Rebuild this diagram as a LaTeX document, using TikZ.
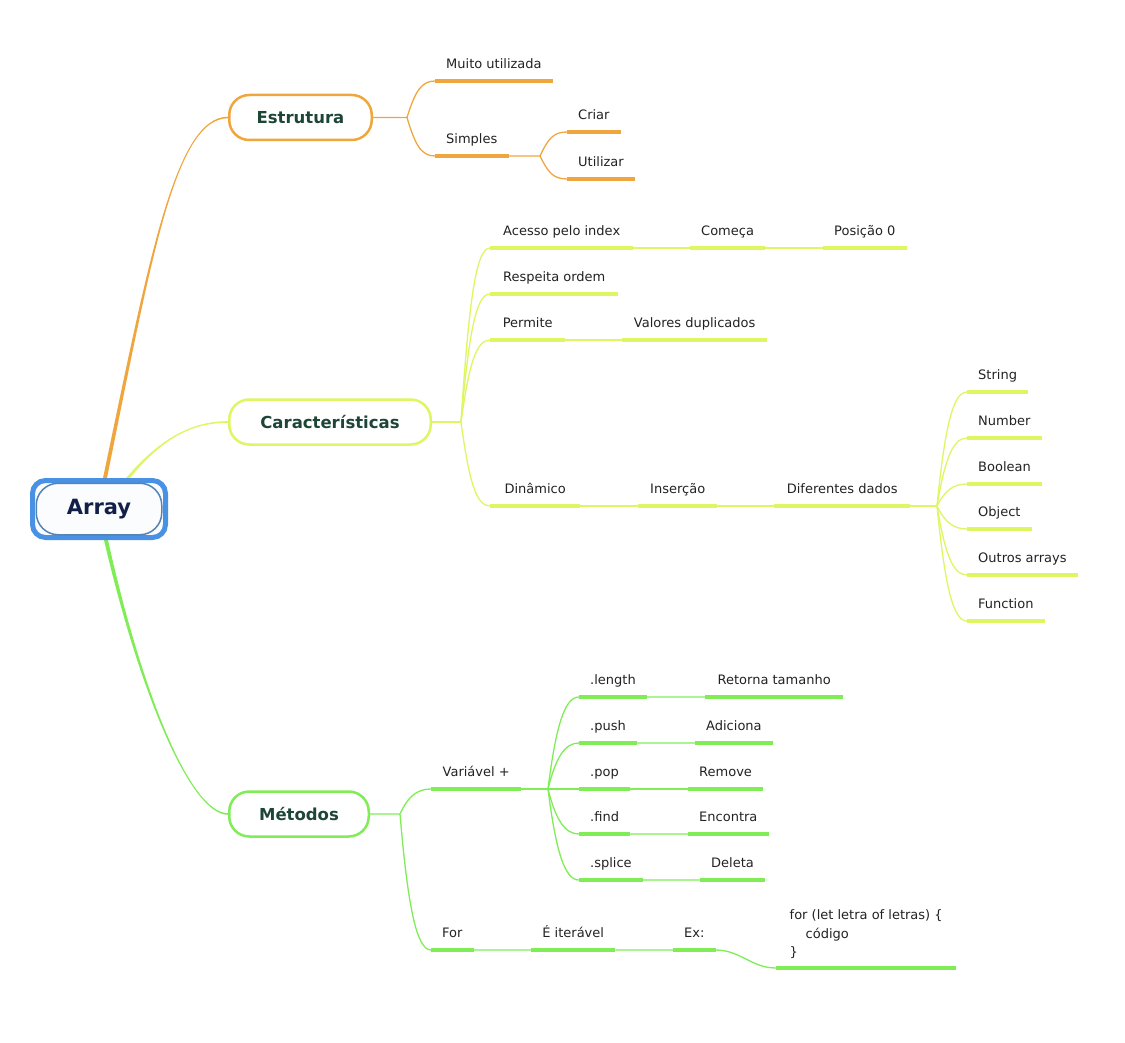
\documentclass[tikz,border=0pt]{standalone}
\usepackage{fontspec}
\setmainfont{DejaVu Sans}
\usetikzlibrary{calc,backgrounds}

\definecolor{orng}{RGB}{240,166,62}
\definecolor{limeg}{RGB}{221,246,98}
\definecolor{grn}{RGB}{128,236,86}
\definecolor{rootblue}{RGB}{72,145,228}
\definecolor{rootin}{RGB}{84,132,180}
\definecolor{titletxt}{RGB}{30,70,55}
\definecolor{roottxt}{RGB}{18,32,72}
\definecolor{leaftxt}{RGB}{34,34,34}

% thick branch from the root, thinner towards the topic
\newcommand\rootlink[6]{%
  \fill[#1] ($#2+(-2,0)$) .. controls ($#3+(-1.2,0)$) and ($#4+(0,#6)$) .. ($#5+(0,#6)$)
    -- ($#5-(0,#6)$) .. controls ($#4-(0,#6)$) and ($#3+(1.2,0)$) .. ($#2+(2,0)$) -- cycle;}

\begin{document}
\begin{tikzpicture}[x=1pt,y=-1pt,
    title/.style={draw=#1, line width=2.5pt, rounded corners=20pt, fill=white, minimum height=45pt,
      inner xsep=0pt, font=\fontsize{16.5}{19}\selectfont\bfseries, text=titletxt},
    uline/.style={anchor=south west, inner xsep=11pt, font=\fontsize{13}{18.5}\selectfont, text=leaftxt,
      append after command={(\tikzlastnode.south west) edge[line width=4pt,#1] (\tikzlastnode.south east)}},
    leaf/.style={uline=#1, text height=10pt, text depth=3pt, inner ysep=9pt},
    codeleaf/.style={uline=#1, align=left, inner ysep=9pt},
    link/.style={line width=1.3pt},
    fan/.style={to path={.. controls ($(\tikztostart)!0.7!(\tikztostart |- \tikztotarget)+(8,0)$)
      and ($(\tikztotarget)+(-14,0)$) .. (\tikztotarget)}}]
    \useasboundingbox (0,0) rectangle (1125,1043);

    % root
    \node[draw=rootblue, line width=5pt, rounded corners=13pt, fill=white!97!rootblue,
      minimum width=133, minimum height=57] (array) at (99,509) {};
    \node[draw=rootin, line width=1.5pt, rounded corners=22pt, minimum width=125.5, minimum height=51.5,
      font=\fontsize{21}{24}\selectfont\bfseries, text=roottxt] (arrayin) at (array.center) {Array};

    % topics
    \node[title=orng, minimum width=142.5] (estrutura) at (300.5,117.5) {Estrutura};
    \node[title=limeg, minimum width=201.5] (caract) at (330,422) {Características};
    \node[title=grn, minimum width=139.5] (metodos) at (299,814) {Métodos};

    % Estrutura
    \node[leaf=orng] (muito) at (435,81) {Muito utilizada};
    \node[leaf=orng] (simples) at (435,156) {Simples};
    \node[leaf=orng] (criar) at (567,132) {Criar};
    \node[leaf=orng] (utilizar) at (567,179) {Utilizar};

    % Caracteristicas
    \node[leaf=limeg, minimum width=143] (acesso) at (490,248) {Acesso pelo index};
    \node[leaf=limeg] (comeca) at (690,248) {Começa};
    \node[leaf=limeg] (posicao) at (823,248) {Posição 0};
    \node[leaf=limeg, minimum width=128] (respeita) at (490,294) {Respeita ordem};
    \node[leaf=limeg, minimum width=75] (permite) at (490,340) {Permite};
    \node[leaf=limeg, minimum width=145] (valores) at (622,340) {Valores duplicados};
    \node[leaf=limeg, minimum width=90] (dinamico) at (490,506) {Dinâmico};
    \node[leaf=limeg, minimum width=79] (insercao) at (638,506) {Inserção};
    \node[leaf=limeg, minimum width=136] (diferentes) at (774,506) {Diferentes dados};
    \node[leaf=limeg] (string) at (967,392) {String};
    \node[leaf=limeg] (number) at (967,438) {Number};
    \node[leaf=limeg] (boolean) at (967,484) {Boolean};
    \node[leaf=limeg] (object) at (967,529) {Object};
    \node[leaf=limeg] (outros) at (967,575) {Outros arrays};
    \node[leaf=limeg] (function) at (967,621) {Function};

    % Metodos
    \node[leaf=grn, minimum width=90] (variavel) at (431,789) {Variável +};
    \node[leaf=grn] (length) at (579,697) {.length};
    \node[leaf=grn] (push) at (579,743) {.push};
    \node[leaf=grn] (pop) at (579,789) {.pop};
    \node[leaf=grn] (find) at (579,834) {.find};
    \node[leaf=grn] (splice) at (579,880) {.splice};
    \node[leaf=grn, minimum width=138] (retorna) at (705,697) {Retorna tamanho};
    \node[leaf=grn] (adiciona) at (695,743) {Adiciona};
    \node[leaf=grn] (remove) at (688,789) {Remove};
    \node[leaf=grn] (encontra) at (688,834) {Encontra};
    \node[leaf=grn] (deleta) at (700,880) {Deleta};
    \node[leaf=grn] (for) at (431,950) {For};
    \node[leaf=grn, minimum width=84] (iteravel) at (531,950) {É iterável};
    \node[leaf=grn] (ex) at (673,950) {Ex:};
    \node[codeleaf=grn, minimum width=180] (codigo) at (776,968)
      {for (let letra of letras) \{\\\hspace*{16pt}código\\\}};

    \begin{scope}[on background layer]
        \coordinate (ra) at ($(array.north)+(6,0)$);
        \coordinate (rb) at ($(array.north)+(29,0)$);
        \coordinate (rc) at ($(array.south)+(7,0)$);
        \rootlink{orng}{(ra)}{(150,260)}{(175,117.5)}{(estrutura.west)}{-0.8}
        \rootlink{limeg}{(rb)}{(160,440)}{(190,422)}{(caract.west)}{-0.8}
        \rootlink{grn}{(rc)}{(140,690)}{(190,814)}{(metodos.west)}{0.8}

        \coordinate (fE) at (407,117.5);
        \coordinate (fS) at (540,156);
        \draw[link,orng] (estrutura.east) -- (fE) to[fan] (muito.south west) (fE) to[fan] (simples.south west);
        \draw[link,orng] (simples.south east) -- (fS) to[fan] (criar.south west) (fS) to[fan] (utilizar.south west);

        \coordinate (fC) at (461,422);
        \coordinate (fD) at (937,506);
        \draw[link,limeg] (caract.east) -- (fC);
        \foreach \n in {acesso,respeita,permite,dinamico}
            \draw[link,limeg] (fC) to[fan] (\n.south west);
        \draw[link,limeg] (acesso.south east) -- (comeca.south west) (comeca.south east) -- (posicao.south west);
        \draw[link,limeg] (permite.south east) -- (valores.south west);
        \draw[link,limeg] (dinamico.south east) -- (insercao.south west) (insercao.south east) -- (diferentes.south west);
        \draw[link,limeg] (diferentes.south east) -- (fD);
        \foreach \n in {string,number,boolean,object,outros,function}
            \draw[link,limeg] (fD) to[fan] (\n.south west);

        \coordinate (fM) at (400,814);
        \coordinate (fV) at (548,789);
        \draw[link,grn] (metodos.east) -- (fM) to[fan] (variavel.south west) (fM) to[fan] (for.south west);
        \draw[link,grn] (variavel.south east) -- (fV);
        \foreach \a/\b in {length/retorna,push/adiciona,pop/remove,find/encontra,splice/deleta}
            \draw[link,grn] (fV) to[fan] (\a.south west) (\a.south east) -- (\b.south west);
        \draw[link,grn] (for.south east) -- (iteravel.south west) (iteravel.south east) -- (ex.south west)
            (ex.south east) to[out=0,in=180] (codigo.south west);
    \end{scope}
\end{tikzpicture}
\end{document}
